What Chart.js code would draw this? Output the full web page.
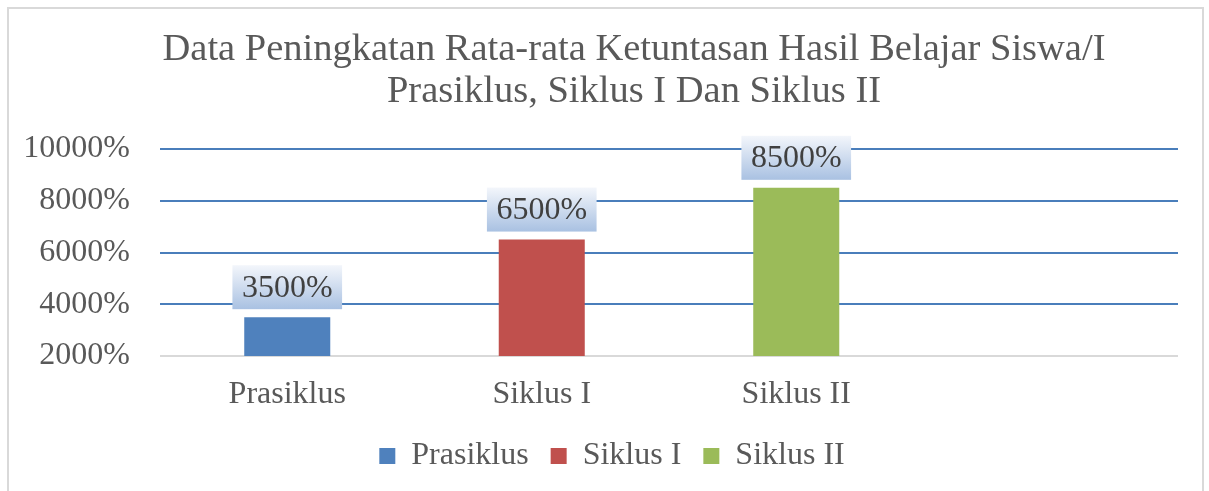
<!DOCTYPE html>
<html>
<head>
<meta charset="utf-8">
<script src="https://cdn.jsdelivr.net/npm/chart.js@4.4.0/dist/chart.umd.min.js"></script>
<style>
    html, body { margin: 0; padding: 0; background: #fff; }
    #wrap { width: 1209px; height: 491px; }
</style>
</head>
<body>
<div id="wrap"><canvas id="dashGraph" width="1209" height="491"></canvas></div>
<script>
var categories = ['Prasiklus', 'Siklus I', 'Siklus II', ''];
var values = [3500, 6500, 8500, null];
var barColors = ['#4f81bd', '#c0504d', '#9bbb59', '#ffffff'];
var yTicks = [2000, 4000, 6000, 8000, 10000];
var titleLines = ['Data Peningkatan Rata-rata Ketuntasan Hasil Belajar Siswa/I', 'Prasiklus, Siklus I Dan Siklus II'];

var serif = "'Liberation Serif', 'Times New Roman', serif";

// light frame round the whole chart
var framePlugin = {
    id: 'frame',
    beforeDraw: function(chart) {
        var ctx = chart.ctx;
        ctx.save();
        ctx.fillStyle = '#ffffff';
        ctx.fillRect(0, 0, chart.width, chart.height);
        ctx.strokeStyle = '#d9d9d9';
        ctx.lineWidth = 2;
        ctx.strokeRect(8, 8, 1195, 520);
        ctx.restore();
    },
    afterLayout: function(chart) {
        // title and legend are not centred on the canvas in the original
        chart.titleBlock.left = 90;
        chart.titleBlock.right = 1178;
        chart.legend.left = 46;
        chart.legend.right = 1178;
    }
};

// value labels in a pale blue box above each bar
var valueLabels = {
    id: 'valueLabels',
    afterDatasetsDraw: function(chart) {
        var ctx = chart.ctx;
        var meta = chart.getDatasetMeta(0);
        ctx.save();
        ctx.font = '32px ' + serif;
        meta.data.forEach(function(bar, i) {
            if (values[i] === null) return;
            var text = values[i] + '%';
            var w = ctx.measureText(text).width + 19;
            var h = 44;
            var bottom = bar.y - 8;
            var top = bottom - h;
            var grad = ctx.createLinearGradient(0, top, 0, bottom);
            grad.addColorStop(0, '#f3f6fb');
            grad.addColorStop(1, '#a9c1e2');
            ctx.fillStyle = grad;
            ctx.fillRect(bar.x - w / 2, top, w, h);
            ctx.fillStyle = '#404040';
            ctx.textAlign = 'center';
            ctx.textBaseline = 'middle';
            ctx.fillText(text, bar.x, top + h / 2 + 1);
        });
        ctx.restore();
    }
};

var ctx = document.getElementById('dashGraph').getContext('2d');
var myChart = new Chart(ctx, {
    type: 'bar',
    data: {
        labels: categories,
        datasets: [{
            label: 'Nilai',
            data: values,
            backgroundColor: barColors,
            categoryPercentage: 1,
            barPercentage: 0.338
        }]
    },
    plugins: [framePlugin, valueLabels],
    options: {
        responsive: false,
        animation: false,
        devicePixelRatio: 1,
        layout: {
            padding: { left: 0, right: 31, top: 0, bottom: 9 }
        },
        plugins: {
            tooltip: { enabled: false },
            title: {
                display: true,
                text: titleLines,
                color: '#595959',
                font: { family: serif, size: 38.5, weight: 'normal', lineHeight: 1.091 },
                padding: { top: 29, bottom: 36 }
            },
            legend: {
                position: 'bottom',
                labels: {
                    color: '#595959',
                    font: { family: serif, size: 32 },
                    boxWidth: 16,
                    boxHeight: 16,
                    padding: 22,
                    generateLabels: function(chart) {
                        return categories.slice(0, 3).map(function(name, i) {
                            return {
                                text: name,
                                fillStyle: barColors[i],
                                strokeStyle: barColors[i],
                                lineWidth: 0,
                                fontColor: '#595959',
                                index: i
                            };
                        });
                    }
                },
                onClick: function() {}
            }
        },
        scales: {
            x: {
                afterFit: function(scale) {
                    scale.height = 62;
                },
                grid: { display: false, drawTicks: false },
                border: { display: false },
                ticks: {
                    color: '#595959',
                    font: { family: serif, size: 32 },
                    padding: 19,
                    maxRotation: 0
                }
            },
            y: {
                min: 2000,
                max: 10000,
                afterBuildTicks: function(scale) {
                    scale.ticks = yTicks.map(function(v) { return { value: v }; });
                },
                afterFit: function(scale) {
                    scale.width = 160;
                },
                grid: {
                    drawTicks: false,
                    lineWidth: 2,
                    color: function(c) {
                        return c.tick && c.tick.value === 2000 ? '#d9d9d9' : '#4a7ebb';
                    }
                },
                border: { display: false },
                ticks: {
                    color: '#595959',
                    font: { family: serif, size: 32 },
                    padding: 30,
                    callback: function(v) { return v + '%'; }
                }
            }
        }
    }
});
</script>
</body>
</html>
